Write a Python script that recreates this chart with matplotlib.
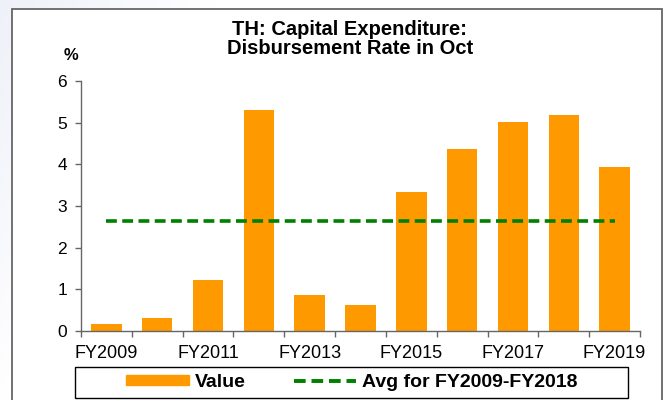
import matplotlib
matplotlib.use("Agg")
import matplotlib.pyplot as plt
from matplotlib.patches import Rectangle
from matplotlib.lines import Line2D
import numpy as np

plt.rcParams['font.family'] = ['Liberation Sans', 'DejaVu Sans']

categories = ["FY2009", "FY2010", "FY2011", "FY2012", "FY2013", "FY2014",
              "FY2015", "FY2016", "FY2017", "FY2018", "FY2019"]
values = [0.17, 0.31, 1.22, 5.30, 0.86, 0.63, 3.34, 4.37, 5.01, 5.18, 3.94]
avg_value = 2.64
title = "TH: Capital Expenditure:\nDisbursement Rate in Oct"

W, H = 667, 400
fig = plt.figure(figsize=(6.67, 4.0), dpi=100)
fig.patch.set_facecolor("white")

# faint background swoosh at top-left, outside the frame
bg = fig.add_axes([0, 0, 1, 1], zorder=-10)
yy, xx = np.mgrid[0:H, 0:W]
alpha = np.clip(1 - (xx / 220.0) - (yy / 420.0), 0, 1) * 0.35
img = np.ones((H, W, 4))
img[..., 0] = 0.82
img[..., 1] = 0.84
img[..., 2] = 0.93
img[..., 3] = alpha
bg.imshow(img, extent=[0, W, H, 0], aspect="auto", interpolation="bilinear")
bg.set_xlim(0, W)
bg.set_ylim(H, 0)
bg.axis("off")

# outer white frame
fig.patches.append(Rectangle((12 / W, -0.02), (662 - 12) / W, 1.02 - 9 / H,
                             transform=fig.transFigure, facecolor="white",
                             edgecolor="#666666", lw=1.3, zorder=-5))

ax = fig.add_axes([81 / W, 69 / H, 559 / W, 250 / H])
ax.set_facecolor("none")
x = np.arange(len(categories))
ax.bar(x, values, width=0.6, color="#FF9900", zorder=2)
ax.plot([x[0], x[-1]], [avg_value, avg_value], color="#008000", lw=2.6,
        ls=(0, (3, 1.5)), zorder=3)

ax.set_xlim(-0.5, len(categories) - 0.5)
ax.set_ylim(0, 6)
ax.set_yticks(range(0, 7))
ax.tick_params(axis="y", direction="out", length=4, width=1, color="#666666",
               labelsize=12.5, pad=6)
ax.set_xticks(x[::2])
ax.set_xticklabels(categories[::2], fontsize=13)
ax.tick_params(axis="x", length=0, pad=10)
ax.set_xticks(np.arange(-0.5, len(categories) + 0.5, 1), minor=True)
ax.tick_params(axis="x", which="minor", direction="out", length=4, width=1,
               color="#666666")
for s in ["top", "right"]:
    ax.spines[s].set_visible(False)
for s in ["left", "bottom"]:
    ax.spines[s].set_color("#666666")
    ax.spines[s].set_linewidth(1)

fig.text(350 / W, 1 - 39 / H, title, ha="center", va="center",
         fontsize=14.5, fontweight="bold", linespacing=1.05)
fig.text(71 / W, 1 - 55 / H, "%", ha="center", va="center",
         fontsize=12, fontweight="bold")

# legend frame
fig.patches.append(Rectangle((75 / W, 2 / H), (628 - 75) / W, (398 - 367) / H,
                             transform=fig.transFigure, fill=False,
                             edgecolor="black", lw=1.0))
handles = [Rectangle((0, 0), 1, 1, color="#FF9900"),
           Line2D([0], [0], color="#008000", lw=2.8, ls=(0, (3, 1.5)))]
leg = fig.legend(handles, ["Value", "Avg for FY2009-FY2018"],
                 loc="center", bbox_to_anchor=(352 / W, 1 - 382.5 / H),
                 ncol=2, frameon=False,
                 prop={"weight": "bold", "size": 14}, handlelength=3.2,
                 handleheight=0.4, columnspacing=2.5, borderpad=0.0,
                 handletextpad=0.3)

fig.savefig("out.png", dpi=100)
